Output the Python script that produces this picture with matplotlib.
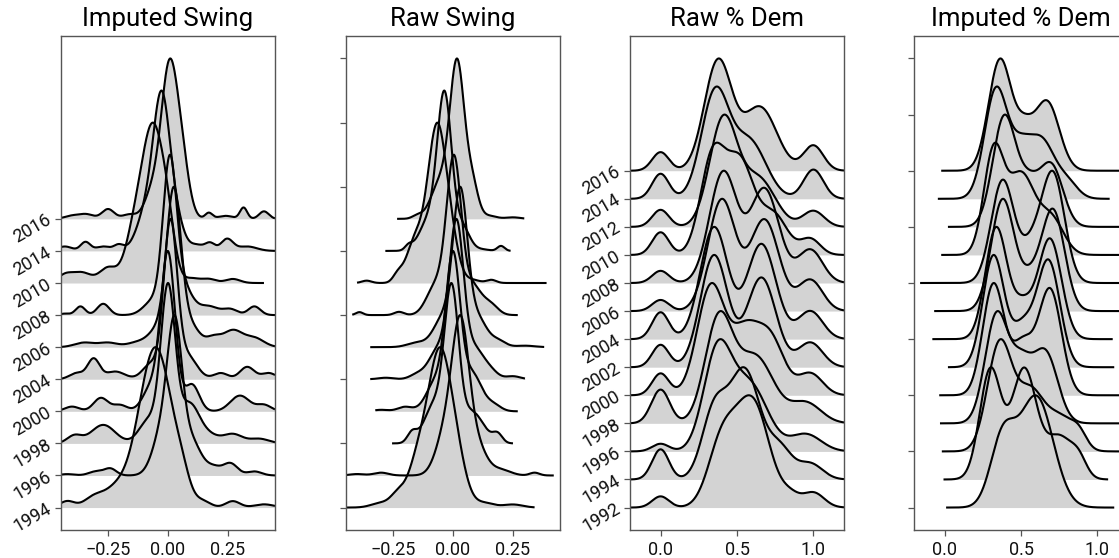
import numpy as np
import matplotlib
matplotlib.use("Agg")
import matplotlib.pyplot as plt

plt.rcParams['font.family'] = ['Roboto', 'DejaVu Sans']

FILL = '#d3d3d3'
SPINE = '#555555'

# ---- Imputed swing: density kernels per year (center, weight, width) ----
imp_swing_years = [1994, 1996, 1998, 2000, 2004, 2006, 2008, 2010, 2014, 2016]
imp_swing_span = [(-0.446, 0.446)] * 7 + [(-0.446, 0.40)] + [(-0.446, 0.446)] * 2
imp_swing_kernels = [
    [(-0.052, 1, 0.07), (0.06, 0.08, 0.03), (-0.22, 0.1, 0.05), (-0.31, 0.06, 0.04), (-0.42, 0.04, 0.03),
     (0.15, 0.03, 0.03), (0.27, 0.04, 0.03), (0.40, 0.02, 0.04)],
    [(0.03, 1, 0.03), (-0.02, 0.35, 0.04), (0.09, 0.2, 0.03), (0.13, 0.1, 0.03), (0.26, 0.09, 0.03),
     (0.19, 0.06, 0.03), (-0.24, 0.05, 0.025), (-0.30, 0.03, 0.03), (-0.42, 0.01, 0.03), (0.36, 0.03, 0.03)],
    [(0.0, 1, 0.03), (0.09, 0.25, 0.04), (-0.08, 0.15, 0.04), (-0.27, 0.12, 0.05), (-0.39, 0.05, 0.03),
     (0.17, 0.05, 0.04), (0.27, 0.06, 0.04), (0.38, 0.03, 0.04)],
    [(0.0, 1, 0.03), (0.1, 0.17, 0.03), (-0.07, 0.15, 0.035), (-0.28, 0.085, 0.03), (-0.40, 0.03, 0.03),
     (-0.2, 0.04, 0.03), (0.30, 0.1, 0.04), (0.40, 0.04, 0.03)],
    [(0.01, 1, 0.028), (0.08, 0.15, 0.04), (-0.07, 0.1, 0.035), (-0.31, 0.13, 0.025), (-0.38, 0.04, 0.03),
     (-0.22, 0.05, 0.04), (0.33, 0.08, 0.03), (0.22, 0.04, 0.03), (0.42, 0.04, 0.03)],
    [(0.024, 1, 0.03), (-0.04, 0.12, 0.04), (0.09, 0.15, 0.04), (0.27, 0.11, 0.04), (0.19, 0.06, 0.03),
     (0.36, 0.06, 0.04), (-0.35, 0.03, 0.04), (-0.25, 0.03, 0.04), (-0.13, 0.03, 0.04)],
    [(0.007, 1, 0.028), (0.06, 0.2, 0.04), (-0.06, 0.1, 0.04), (-0.365, 0.06, 0.02), (-0.27, 0.078, 0.025),
     (-0.43, 0.01, 0.02), (0.17, 0.06, 0.04), (0.36, 0.06, 0.025), (0.26, 0.04, 0.03)],
    [(-0.0625, 1, 0.045), (-0.14, 0.3, 0.04), (0.0, 0.25, 0.03), (-0.25, 0.1, 0.035), (-0.36, 0.07, 0.04),
     (-0.43, 0.05, 0.03), (0.17, 0.027, 0.03), (0.27, 0.027, 0.03), (0.10, 0.03, 0.03)],
    [(-0.025, 1, 0.035), (-0.09, 0.25, 0.04), (0.04, 0.15, 0.03), (-0.344, 0.06, 0.02), (-0.205, 0.04, 0.02),
     (-0.27, 0.03, 0.03), (-0.43, 0.03, 0.03), (0.176, 0.05, 0.02), (0.246, 0.08, 0.025), (0.33, 0.03, 0.04),
     (0.12, 0.04, 0.03)],
    [(0.005, 1, 0.035), (0.06, 0.3, 0.03), (-0.07, 0.15, 0.03), (-0.25, 0.065, 0.025), (-0.34, 0.03, 0.03),
     (-0.40, 0.02, 0.03), (-0.16, 0.03, 0.03), (0.17, 0.04, 0.015), (0.315, 0.075, 0.015), (0.40, 0.05, 0.02),
     (0.24, 0.02, 0.03)],
]

# ---- Raw swing ----
raw_swing_span = [(-0.443, 0.34), (-0.447, 0.42), (-0.254, 0.25), (-0.324, 0.27), (-0.345, 0.30),
                  (-0.345, 0.38), (-0.42, 0.27), (-0.40, 0.39), (-0.282, 0.24), (-0.233, 0.297)]
raw_swing_kernels = [
    [(-0.056, 1, 0.05), (-0.15, 0.25, 0.04), (0.02, 0.2, 0.04), (-0.23, 0.08, 0.03), (-0.3, 0.03, 0.04),
     (0.13, 0.03, 0.04), (0.25, 0.02, 0.04)],
    [(0.032, 1, 0.035), (-0.03, 0.3, 0.04), (0.1, 0.2, 0.04), (0.2, 0.04, 0.04), (-0.3, 0.02, 0.03),
     (-0.4, 0.01, 0.03), (0.34, 0.02, 0.02)],
    [(-0.006, 1, 0.03), (-0.08, 0.25, 0.04), (0.08, 0.2, 0.04), (-0.17, 0.07, 0.02), (0.186, 0.06, 0.02),
     (0.14, 0.03, 0.03)],
    [(0.0, 1, 0.03), (-0.07, 0.2, 0.04), (0.08, 0.25, 0.04), (-0.2, 0.03, 0.03), (0.17, 0.04, 0.03),
     (-0.3, 0.01, 0.03)],
    [(0.014, 1, 0.03), (-0.06, 0.2, 0.04), (0.09, 0.2, 0.04), (0.16, 0.04, 0.03), (-0.15, 0.03, 0.03),
     (-0.28, 0.01, 0.03), (0.25, 0.02, 0.03)],
    [(0.03, 1, 0.03), (-0.04, 0.2, 0.04), (0.1, 0.2, 0.04), (0.19, 0.04, 0.03), (-0.15, 0.03, 0.04),
     (0.3, 0.01, 0.04)],
    [(0.004, 1, 0.03), (-0.06, 0.2, 0.04), (0.08, 0.2, 0.04), (0.16, 0.06, 0.03), (-0.39, 0.02, 0.015),
     (-0.225, 0.022, 0.02), (-0.1, 0.03, 0.03)],
    [(-0.066, 1, 0.04), (-0.16, 0.25, 0.035), (0.0, 0.15, 0.03), (-0.23, 0.05, 0.02), (-0.36, 0.015, 0.02),
     (0.16, 0.02, 0.02), (0.08, 0.02, 0.03)],
    [(-0.035, 1, 0.03), (-0.1, 0.2, 0.04), (0.04, 0.15, 0.03), (-0.185, 0.03, 0.015), (0.2, 0.033, 0.015),
     (0.12, 0.01, 0.03)],
    [(0.018, 1, 0.03), (-0.05, 0.25, 0.04), (0.08, 0.22, 0.025), (-0.15, 0.02, 0.02), (0.15, 0.02, 0.03),
     (0.25, 0.01, 0.03)],
]

# ---- Raw % Dem ----
dem_years = [1992, 1994, 1996, 1998, 2000, 2002, 2004, 2006, 2008, 2010, 2012, 2014, 2016]
raw_dem_span = [(-0.2, 1.2)] * 13
raw_dem_kernels = [
    [(0.0, 0.09, 0.055), (0.40, 0.5, 0.09), (0.60, 0.85, 0.11), (1.0, 0.12, 0.07), (0.85, 0.08, 0.06)],
    [(0.0, 0.25, 0.055), (0.35, 0.55, 0.08), (0.55, 0.9, 0.1), (0.98, 0.13, 0.08), (0.78, 0.25, 0.08)],
    [(0.0, 0.08, 0.055), (0.37, 1, 0.09), (0.58, 0.7, 0.12), (0.95, 0.18, 0.1)],
    [(0.0, 0.33, 0.06), (0.38, 1, 0.09), (0.62, 0.65, 0.12), (0.95, 0.2, 0.1)],
    [(0.0, 0.2, 0.055), (0.33, 1, 0.09), (0.55, 0.55, 0.09), (0.72, 0.5, 0.09), (0.98, 0.2, 0.08)],
    [(0.0, 0.2, 0.055), (0.35, 1, 0.09), (0.66, 0.8, 0.095), (0.98, 0.22, 0.08)],
    [(0.0, 0.24, 0.055), (0.35, 1, 0.09), (0.66, 0.85, 0.095), (0.98, 0.25, 0.08)],
    [(0.0, 0.1, 0.055), (0.40, 1, 0.09), (0.68, 0.82, 0.095), (0.98, 0.28, 0.08)],
    [(0.0, 0.11, 0.055), (0.41, 1, 0.09), (0.68, 0.85, 0.095), (0.98, 0.3, 0.08)],
    [(0.0, 0.2, 0.055), (0.34, 0.85, 0.08), (0.52, 0.8, 0.09), (0.74, 0.35, 0.09), (0.98, 0.14, 0.065)],
    [(0.0, 0.16, 0.055), (0.41, 1, 0.09), (0.64, 0.45, 0.11), (1.0, 0.15, 0.07)],
    [(0.0, 0.24, 0.055), (0.356, 1, 0.09), (0.58, 0.55, 0.11), (1.0, 0.28, 0.065)],
    [(0.0, 0.17, 0.055), (0.376, 1, 0.09), (0.65, 0.58, 0.11), (1.0, 0.23, 0.065)],
]

# ---- Imputed % Dem ----
imp_dem_span = [(0.01, 1.11), (-0.007, 1.07), (-0.018, 1.2), (-0.03, 1.2), (-0.035, 1.2), (0.022, 1.11),
                (-0.08, 1.10), (-0.068, 1.2), (-0.16, 1.2), (-0.022, 1.2), (0.022, 1.2), (-0.044, 1.08),
                (-0.022, 1.2)]
imp_dem_kernels = [
    [(0.38, 0.55, 0.08), (0.6, 0.9, 0.11)],
    [(0.30, 0.9, 0.07), (0.52, 0.9, 0.08), (0.75, 0.35, 0.09), (0.88, 0.12, 0.05)],
    [(0.36, 1, 0.08), (0.56, 0.55, 0.09), (0.76, 0.3, 0.09), (0.88, 0.12, 0.05)],
    [(0.34, 1, 0.075), (0.5, 0.5, 0.07), (0.66, 0.65, 0.08)],
    [(0.32, 1, 0.07), (0.51, 0.45, 0.07), (0.69, 0.95, 0.075)],
    [(0.32, 1, 0.07), (0.51, 0.35, 0.07), (0.68, 0.95, 0.075)],
    [(0.337, 1, 0.07), (0.51, 0.3, 0.07), (0.69, 0.9, 0.075)],
    [(0.38, 1, 0.075), (0.555, 0.25, 0.07), (0.71, 0.9, 0.075)],
    [(0.38, 0.95, 0.075), (0.567, 0.3, 0.07), (0.71, 1, 0.075)],
    [(0.32, 1, 0.065), (0.50, 0.8, 0.09), (0.70, 0.35, 0.08)],
    [(0.39, 1, 0.075), (0.55, 0.35, 0.07), (0.70, 0.55, 0.075)],
    [(0.337, 1, 0.075), (0.5, 0.4, 0.07), (0.64, 0.5, 0.08), (0.8, 0.15, 0.07)],
    [(0.363, 1, 0.075), (0.52, 0.3, 0.06), (0.67, 0.62, 0.08)],
]


def density(kernels, lo, hi, n=700):
    x = np.linspace(lo, hi, n)
    d = np.zeros_like(x)
    for c, w, s in kernels:
        d += w * np.exp(-0.5 * ((x - c) / s) ** 2)
    return x, d / d.max()


def ridges(ax, kernels, spans, height):
    for k, (kern, (lo, hi)) in enumerate(zip(kernels, spans)):
        x, d = density(kern, lo, hi)
        y = k + height * d
        ax.fill_between(x, k, y, color=FILL, lw=0, zorder=1)
        ax.plot(x, y, color='black', lw=1.5, zorder=2, solid_capstyle='butt')


fig = plt.figure(figsize=(11.19, 5.58), dpi=100)
W, H = 1119, 558
lefts = [61, 346, 630, 914]
axes = [fig.add_axes([l / W, 28 / H, 214 / W, 494 / H]) for l in lefts]

panels = [
    ("Imputed Swing", imp_swing_kernels, imp_swing_span, 5, (-0.446, 0.446)),
    ("Raw Swing", raw_swing_kernels, raw_swing_span, 5, (-0.446, 0.446)),
    ("Raw % Dem", raw_dem_kernels, raw_dem_span, 4, (-0.2, 1.2)),
    ("Imputed % Dem", imp_dem_kernels, imp_dem_span, 4, (-0.2, 1.2)),
]

for ax, (title, kern, span, hgt, xl) in zip(axes, panels):
    ridges(ax, kern, span, hgt)
    n = len(kern)
    top = n - 1 + hgt
    ax.set_ylim(-0.05 * top, top * 1.05)
    ax.set_xlim(*xl)
    ax.set_title(title, fontsize=18.5, pad=7)
    for s in ax.spines.values():
        s.set_color(SPINE)
        s.set_linewidth(1.0)
    ax.tick_params(colors=SPINE, labelcolor='#111111', labelsize=13, length=4.5, width=0.9)

for ax in axes[:2]:
    ax.set_xticks([-0.25, 0.0, 0.25])
    ax.set_xticklabels(['\u22120.25', '0.00', '0.25'])
for ax in axes[2:]:
    ax.set_xticks([0.0, 0.5, 1.0])
    ax.set_xticklabels(['0.0', '0.5', '1.0'])

axes[0].set_yticks(range(len(imp_swing_years)))
axes[0].set_yticklabels([str(y) for y in imp_swing_years], rotation=30,
                        rotation_mode='anchor', ha='right', va='center')
axes[2].set_yticks(range(len(dem_years)))
axes[2].set_yticklabels([str(y) for y in dem_years], rotation=30,
                        rotation_mode='anchor', ha='right', va='center')
axes[1].set_yticks(np.arange(0, 15, 2))
axes[1].set_yticklabels([])
axes[3].set_yticks(np.arange(0, 17, 2))
axes[3].set_yticklabels([])

fig.savefig("out.png", dpi=100)
